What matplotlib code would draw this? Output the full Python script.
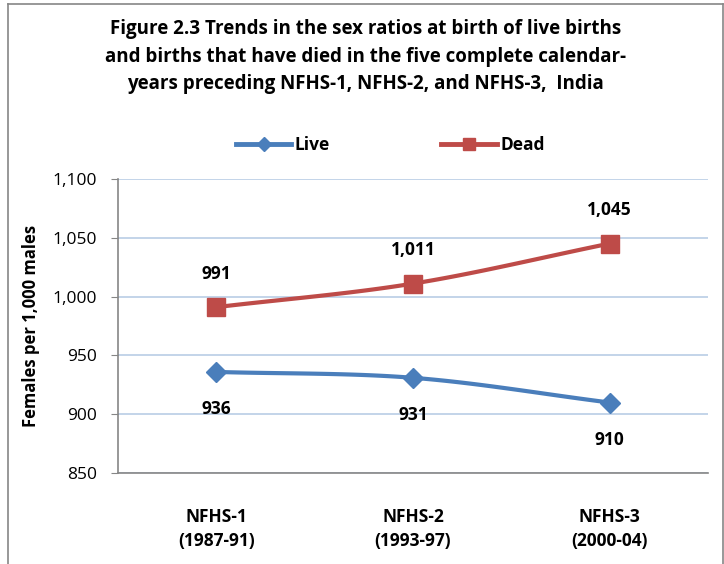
import numpy as np
import matplotlib.pyplot as plt
from matplotlib.lines import Line2D

categories = ["NFHS-1\n(1987-91)", "NFHS-2\n(1993-97)", "NFHS-3\n(2000-04)"]
live = [936, 931, 910]
dead = [991, 1011, 1045]
yticks = [850, 900, 950, 1000, 1050, 1100]

blue = "#4a7ebb"
red = "#be4b48"
font = "Open Sans"


def smooth(xs, ys, n=40):
    # catmull-rom style curve, like excel's smoothed line
    xs = np.asarray(xs, float)
    ys = np.asarray(ys, float)
    px = np.concatenate([[2 * xs[0] - xs[1]], xs, [2 * xs[-1] - xs[-2]]])
    py = np.concatenate([[2 * ys[0] - ys[1]], ys, [2 * ys[-1] - ys[-2]]])
    ox, oy = [], []
    for i in range(1, len(px) - 2):
        t = np.linspace(0, 1, n)
        for p, o in ((px, ox), (py, oy)):
            p0, p1, p2, p3 = p[i - 1], p[i], p[i + 1], p[i + 2]
            o.extend(0.5 * ((2 * p1) + (-p0 + p2) * t
                            + (2 * p0 - 5 * p1 + 4 * p2 - p3) * t ** 2
                            + (-p0 + 3 * p1 - 3 * p2 + p3) * t ** 3))
    return ox, oy


fig = plt.figure(figsize=(7.24, 5.64), dpi=100)
ax = fig.add_axes([0.163, 0.161, 0.815, 0.522])

x = np.arange(len(categories))
sx, sy = smooth(x, live)
ax.plot(sx, sy, color=blue, lw=3, solid_capstyle="round", zorder=3)
ax.plot(x, live, ls="none", marker="D", ms=10, color=blue, zorder=4)
sx, sy = smooth(x, dead)
ax.plot(sx, sy, color=red, lw=3, solid_capstyle="round", zorder=3)
ax.plot(x, dead, ls="none", marker="s", ms=13, color=red, zorder=4)

for i, v in enumerate(live):
    ax.annotate(f"{v:,}", (i, v), xytext=(0, -27), textcoords="offset points",
                ha="center", va="center", fontsize=12.5, fontweight="bold", family=font)
for i, v in enumerate(dead):
    ax.annotate(f"{v:,}", (i, v), xytext=(0, 24), textcoords="offset points",
                ha="center", va="center", fontsize=12.5, fontweight="bold", family=font)

ax.set_xlim(-0.5, 2.5)
ax.set_ylim(850, 1100)
ax.set_yticks(yticks)
ax.set_yticklabels([f"{t:,}" for t in yticks], fontsize=12.5, family=font)
ax.set_xticks(x)
ax.set_xticklabels(categories, fontsize=12.5, fontweight="bold", family=font,
                   linespacing=1.45)
ax.tick_params(axis="x", length=0, pad=25)
ax.tick_params(axis="y", length=5, color="#868686", pad=10)
ax.grid(axis="y", color="#b9cde5", lw=1.2)
ax.set_axisbelow(True)
for s in ["top", "right"]:
    ax.spines[s].set_visible(False)
for s in ["left", "bottom"]:
    ax.spines[s].set_color("#868686")
    ax.spines[s].set_linewidth(1.2)
ax.set_ylabel("Females per 1,000 males", fontsize=12, fontweight="bold",
              family=font, labelpad=9)

handles = [Line2D([], [], color=blue, lw=3.5, marker="D", ms=7),
           Line2D([], [], color=red, lw=3.5, marker="s", ms=9)]
fig.legend(handles, ["Live", "Dead"], loc="center", bbox_to_anchor=(0.539, 0.743),
           ncol=2, frameon=False, columnspacing=6.4, handlelength=3.2, handletextpad=0.2,
           prop={"family": font, "weight": "bold", "size": 12.5})

fig.text(0.505, 0.899, "Figure 2.3 Trends in the sex ratios at birth of live births\n"
         "and births that have died in the five complete calendar-\n"
         "years preceding NFHS-1, NFHS-2, and NFHS-3,  India",
         ha="center", va="center", fontsize=13.5, fontweight="bold", family=font,
         linespacing=1.5)

# outer frame
for xs, ys in [([0.011, 0.011], [0, 0.993]), ([0.011, 0.998], [0.993, 0.993]),
               ([0.998, 0.998], [0.993, 0])]:
    fig.add_artist(Line2D(xs, ys, color="#868686", lw=1.2, transform=fig.transFigure))

fig.savefig("out.png", dpi=100)
